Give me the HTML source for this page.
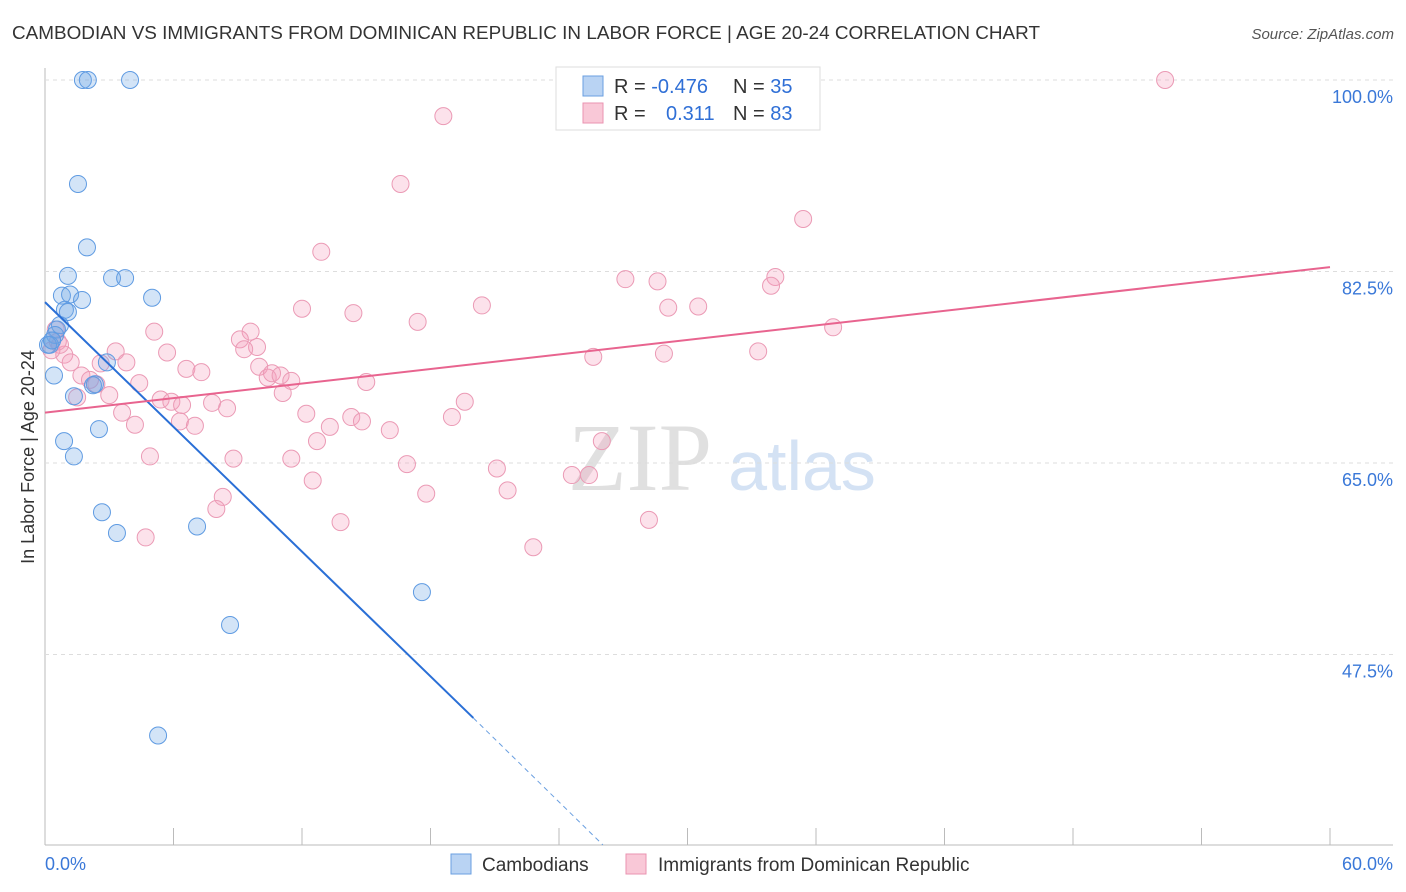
<!DOCTYPE html>
<html><head><meta charset="utf-8"><style>
body{margin:0;background:#fff;font-family:"Liberation Sans",sans-serif}
svg{display:block}
</style></head><body>
<svg id="c" width="1406" height="892">
<text x="12" y="39" font-size="18" fill="#333" textLength="1028" lengthAdjust="spacingAndGlyphs">CAMBODIAN VS IMMIGRANTS FROM DOMINICAN REPUBLIC IN LABOR FORCE | AGE 20-24 CORRELATION CHART</text>
<text x="1394" y="39" font-size="15" fill="#555" font-style="italic" text-anchor="end">Source: ZipAtlas.com</text>
<text x="640" y="490" font-size="96" fill="#e0e0e0" font-family="Liberation Serif,serif" text-anchor="middle">ZIP</text>
<text x="802" y="490" font-size="70" fill="#d4e2f4" text-anchor="middle">atlas</text>
<text transform="translate(34,457) rotate(-90)" font-size="18" fill="#333" text-anchor="middle">In Labor Force | Age 20-24</text>
<g id="grid"></g><g id="pts"></g><g id="lines"></g>
<g>
<rect x="556" y="67" width="264" height="63" fill="#fff" stroke="#ddd"/>
<rect x="583" y="76" width="20" height="20" fill="#b9d3f3" stroke="#6a9fe0"/>
<rect x="583" y="103" width="20" height="20" fill="#f9c8d7" stroke="#ea93b0"/>
<text x="614" y="93" font-size="20" fill="#333">R = <tspan fill="#2f6fd6">-0.476</tspan></text>
<text x="733" y="93" font-size="20" fill="#333">N = <tspan fill="#2f6fd6">35</tspan></text>
<text x="614" y="120" font-size="20" fill="#333">R = <tspan fill="#2f6fd6" x="666">0.311</tspan></text>
<text x="733" y="120" font-size="20" fill="#333">N = <tspan fill="#2f6fd6">83</tspan></text>
</g>
<g>
<rect x="451" y="854" width="20" height="20" fill="#b9d3f3" stroke="#6a9fe0"/>
<text x="482" y="871" font-size="19" fill="#333">Cambodians</text>
<rect x="626" y="854" width="20" height="20" fill="#f9c8d7" stroke="#ea93b0"/>
<text x="658" y="871" font-size="19" fill="#333">Immigrants from Dominican Republic</text>
</g>
</svg>
<script>
const blueX=[1.77,2.0,3.97,1.54,1.96,1.07,3.13,3.74,5.0,0.79,1.17,1.73,0.93,1.07,0.7,0.56,0.47,0.33,0.23,0.42,2.33,2.89,1.35,2.52,0.89,1.35,2.66,3.36,7.1,8.64,5.28,17.6,0.14,2.24,0.33];
const blueY=[100,100,100,90.5,84.7,82.1,81.9,81.9,80.1,80.3,80.4,79.9,79.0,78.8,77.6,77.2,76.7,76.2,75.8,73.0,72.2,74.2,71.1,68.1,67.0,65.6,60.5,58.6,59.2,50.2,40.1,53.2,75.8,72.1,76.2];
const pinkX=[52.3,18.6,16.6,35.4,12.9,27.1,28.6,34.1,33.9,20.4,12.0,14.4,29.1,30.5,17.4,36.8,5.1,9.6,9.1,9.9,9.3,3.3,5.7,25.6,28.9,33.3,0.9,1.2,2.6,3.8,6.6,7.3,10.0,10.4,10.6,11.0,11.5,15.0,1.7,4.4,3.0,1.5,5.4,5.9,6.4,7.8,8.5,3.6,11.1,12.2,14.3,14.8,19.6,19.0,4.2,6.3,7.0,13.3,16.1,12.7,26.0,4.9,8.8,11.5,16.9,21.1,24.6,25.4,12.5,17.8,21.6,8.3,8.0,13.8,28.2,4.7,22.8,0.7,0.3,2.1,0.5,0.6,2.4];
const pinkY=[100,96.7,90.5,87.3,84.3,81.8,81.6,82.0,81.2,79.4,79.1,78.7,79.2,79.3,77.9,77.4,77.0,77.0,76.3,75.6,75.4,75.2,75.1,74.7,75.0,75.2,74.9,74.2,74.1,74.2,73.6,73.3,73.8,72.8,73.2,73.0,72.5,72.4,73.0,72.3,71.2,71.0,70.8,70.6,70.3,70.5,70.0,69.6,71.4,69.5,69.2,68.8,70.6,69.2,68.5,68.8,68.4,68.3,68.0,67.0,67.0,65.6,65.4,65.4,64.9,64.5,63.9,63.9,63.4,62.2,62.5,61.9,60.8,59.6,59.8,58.2,57.3,75.8,75.3,72.6,77.2,76.1,72.2];
const yTicks=[100,82.5,65,47.5];
const xTickLabels=["0.0%","60.0%"];
const blueTrend=[[0,79.7],[20.0,41.7],[26.05,30.1]];
const pinkTrend=[[0,69.6],[60,82.9]];
const NS="http://www.w3.org/2000/svg";
const sx=v=>45+v*(1285/60);
const sy=v=>80+(100-v)*(191.5/17.5);
function mk(t,a,p){const e=document.createElementNS(NS,t);for(const k in a)e.setAttribute(k,a[k]);p.appendChild(e);return e;}
const g=document.getElementById('grid');
let ax=mk('line',{x1:45,y1:68,x2:45,y2:845,stroke:'#bbb'},g);


let bx=mk('line',{x1:45,y1:845,x2:1393,y2:845,stroke:'#bbb'},g);


yTicks.forEach(v=>{
 const l=mk('line',{x1:45,x2:1393,y1:sy(v),y2:sy(v),stroke:'#ddd','stroke-dasharray':'4,4'},g);
 
 
 const t=mk('text',{x:1393,y:sy(v)+23,'font-size':18,fill:'#3a78d8','text-anchor':'end'},g);
 t.textContent=v.toFixed(1)+'%';
 
 
});
for(let i=0;i<=10;i++){
 const l=mk('line',{x1:sx(i*6),x2:sx(i*6),y1:828,y2:845,stroke:'#bbb'},g);
 
 
}
xTickLabels.forEach((s,i)=>{
 const t=mk('text',{x:i?1393:45,y:870,'font-size':18,fill:'#3a78d8','text-anchor':i?'end':'start'},g);
 t.textContent=s;
 
 
});
const P=document.getElementById('pts');
pinkX.forEach((x,i)=>{
 const c=mk('circle',{cx:sx(x),cy:sy(pinkY[i]),r:8.5,fill:'rgba(244,160,188,0.3)',stroke:'#eb9ab5','stroke-width':1},P);
 
 
});
blueX.forEach((x,i)=>{
 const c=mk('circle',{cx:sx(x),cy:sy(blueY[i]),r:8.5,fill:'rgba(110,165,230,0.3)',stroke:'#5f9be2','stroke-width':1},P);
 
 
});
const L=document.getElementById('lines');
let b1=mk('line',{x1:sx(blueTrend[0][0]),y1:sy(blueTrend[0][1]),x2:sx(blueTrend[1][0]),y2:sy(blueTrend[1][1]),stroke:'#2a6fd6','stroke-width':2},L);


let b2=mk('line',{x1:sx(blueTrend[1][0]),y1:sy(blueTrend[1][1]),x2:sx(blueTrend[2][0]),y2:sy(blueTrend[2][1]),stroke:'#6a9fe0','stroke-width':1,'stroke-dasharray':'5,4'},L);


let p1=mk('line',{x1:sx(pinkTrend[0][0]),y1:sy(pinkTrend[0][1]),x2:sx(pinkTrend[1][0]),y2:sy(pinkTrend[1][1]),stroke:'#e8648f','stroke-width':2},L);


</script>
</body></html>
